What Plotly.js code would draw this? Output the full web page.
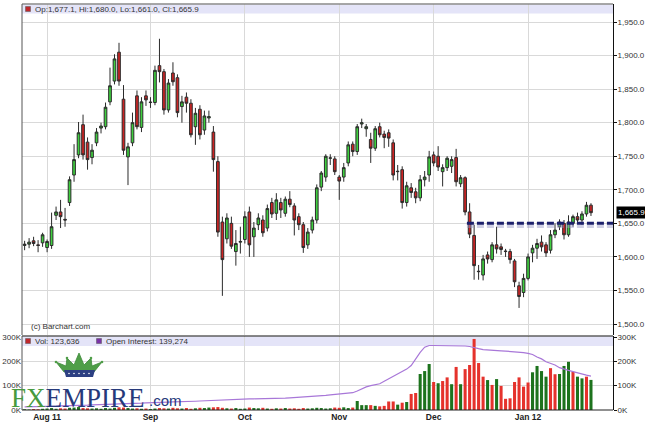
<!DOCTYPE html>
<html><head><meta charset="utf-8">
<script src="https://cdn.plot.ly/plotly-3.0.1.min.js"></script>
<style>html,body{margin:0;padding:0;background:#fff}#chart{width:645px;height:429px}</style>
</head><body><div id="chart"></div>
<script>
// ---------------- DATA ----------------
const dates = [
'2011-07-25','2011-07-26','2011-07-27','2011-07-28','2011-07-29',
'2011-08-01','2011-08-02','2011-08-03','2011-08-04','2011-08-05','2011-08-08','2011-08-09','2011-08-10','2011-08-11','2011-08-12',
'2011-08-15','2011-08-16','2011-08-17','2011-08-18','2011-08-19','2011-08-22','2011-08-23','2011-08-24','2011-08-25','2011-08-26',
'2011-08-29','2011-08-30','2011-08-31',
'2011-09-01','2011-09-02','2011-09-06','2011-09-07','2011-09-08','2011-09-09','2011-09-12','2011-09-13','2011-09-14','2011-09-15',
'2011-09-16','2011-09-19','2011-09-20','2011-09-21','2011-09-22','2011-09-23','2011-09-26','2011-09-27','2011-09-28','2011-09-29','2011-09-30',
'2011-10-03','2011-10-04','2011-10-05','2011-10-06','2011-10-07','2011-10-10','2011-10-11','2011-10-12','2011-10-13','2011-10-14',
'2011-10-17','2011-10-18','2011-10-19','2011-10-20','2011-10-21','2011-10-24','2011-10-25','2011-10-26','2011-10-27','2011-10-28','2011-10-31',
'2011-11-01','2011-11-02','2011-11-03','2011-11-04','2011-11-07','2011-11-08','2011-11-09','2011-11-10','2011-11-11','2011-11-14',
'2011-11-15','2011-11-16','2011-11-17','2011-11-18','2011-11-21','2011-11-22','2011-11-23','2011-11-25','2011-11-28','2011-11-29','2011-11-30',
'2011-12-01','2011-12-02','2011-12-05','2011-12-06','2011-12-07','2011-12-08','2011-12-09','2011-12-12','2011-12-13','2011-12-14',
'2011-12-15','2011-12-16','2011-12-19','2011-12-20','2011-12-21','2011-12-22','2011-12-23','2011-12-27','2011-12-28','2011-12-29','2011-12-30',
'2012-01-03','2012-01-04','2012-01-05','2012-01-06','2012-01-09','2012-01-10','2012-01-11','2012-01-12','2012-01-13',
'2012-01-17','2012-01-18','2012-01-19','2012-01-20','2012-01-23','2012-01-24'];

const openP = [1617,1619,1624,1618,1621, 1614,1617,1662,1667,1656,1681,1722,1752,1797,1771,
1748,1770,1792,1794,1831,1862,1905,1835,1749,1770, 1840,1793,1840,
1830,1830,1885,1876,1819,1874,1867,1824,1838,1829, 1794,1820,1789,1807,1786,1742,1652,1627,1650,1608,1622,
1626,1667,1630,1648,1655,1643,1681,1665,1681,1665, 1686,1676,1660,1648,1618,1640,1655,1704,1719,1747,1746,
1719,1719,1740,1768,1757,1798,1791,1775,1762,1794, 1783,1785,1770,1727,1730,1681,1703,1697,1688,1715,1722,
1752,1750,1727,1733,1735,1748,1709,1718,1667,1632, 1578,1573,1603,1596,1618,1615,1608,1608,1594,1557,1547,
1568,1606,1613,1622,1618,1610,1633,1645,1650, 1633,1650,1660,1655,1664,1677.1];
const highP = [1624,1628,1630,1625,1636, 1626,1666,1675,1685,1673,1720,1768,1801,1812,1778,
1768,1792,1800,1830,1882,1902,1919,1856,1770,1815, 1848,1838,1848,
1838,1885,1925,1880,1865,1890,1872,1840,1845,1835, 1822,1826,1818,1818,1795,1750,1660,1665,1660,1640,1645,
1668,1675,1652,1665,1662,1678,1688,1695,1688,1690, 1698,1680,1665,1652,1643,1660,1708,1728,1753,1753,1750,
1722,1740,1772,1772,1798,1806,1798,1785,1795,1800, 1788,1790,1775,1737,1735,1712,1710,1703,1722,1728,1758,
1757,1765,1738,1750,1750,1761,1722,1720,1680,1648, 1588,1603,1608,1622,1645,1620,1612,1612,1597,1563,1575,
1605,1618,1627,1632,1622,1640,1650,1656,1655, 1662,1663,1666,1668,1682,1680.0];
const lowP = [1610,1613,1616,1607,1615, 1607,1612,1655,1643,1645,1676,1712,1747,1745,1730,
1738,1765,1784,1790,1826,1857,1855,1752,1707,1765, 1790,1786,1825,
1822,1826,1860,1812,1815,1855,1808,1800,1815,1778, 1767,1775,1782,1800,1727,1630,1542,1620,1612,1587,1605,
1620,1600,1600,1640,1630,1638,1658,1655,1658,1660, 1674,1632,1640,1606,1612,1635,1650,1698,1712,1737,1722,
1685,1712,1735,1750,1752,1792,1779,1740,1758,1778, 1762,1764,1714,1714,1672,1675,1688,1680,1683,1705,1712,
1735,1728,1705,1728,1725,1705,1704,1662,1628,1566, 1566,1565,1590,1592,1605,1603,1600,1590,1555,1524,1540,
1565,1592,1597,1608,1600,1605,1628,1640,1626, 1630,1645,1650,1648,1660,1661.0];
const closeP = [1619,1622,1620,1617,1633, 1623,1645,1667,1660,1655,1715,1745,1785,1752,1745,
1759,1786,1795,1823,1855,1895,1862,1759,1764,1800, 1794,1831,1834,
1830.5,1878,1876,1819,1859,1861,1815,1831,1829,1782, 1814,1782,1810,1809,1745,1637,1596,1658,1616,1620,1623,
1660,1618,1643,1658,1636,1672,1664,1685,1670,1686, 1678,1655,1648,1614,1637,1655,1703,1725,1750,1747.5,1727,
1713,1733,1767,1757,1794,1800,1794,1762,1791,1782, 1778,1777,1722,1727.5,1681,1706,1696,1688,1715,1719,1749,
1740,1734,1733,1747,1745,1712,1718,1667,1634,1587, 1578.5,1597,1597,1618,1612,1611,1608.5,1596,1563,1541,1568,
1600,1613,1620,1615,1606,1633,1640,1652,1633, 1652,1660,1655,1664,1677,1665.9];

const volume = [3000,2000,4000,3000,5000, 6000,8000,5000,7000,6000,9000,10000,12000,8000,7000,
6000,7000,5000,8000,6000,9000,11000,10000,8000,6000, 7000,5000,6000,
4000,6000,8000,7000,6000,9000,7000,6000,8000,5000, 7000,9000,8000,10000,11000,12000,9000,7000,6000,8000,5000,
6000,10000,8000,7000,9000,6000,5000,7000,6000,8000, 6000,7000,5000,8000,6000,7000,9000,8000,6000,7000,10000,
9000,11000,8000,10000,37000,20000,20000,20000,17000,15000, 17000,35000,35000,22000,30000,33000,66000,70000,148000,160000,189000,
115000,110000,119000,134000,106000,177000,106000,168000,185000,292000, 193000,137000,123000,103000,127000,99000,46000,48000,115000,134000,96000,
113000,155000,181000,160000,137000,172000,147000,148000,181000, 198000,157000,137000,130000,137000,123636];

// volume bar colours for the last part (g = green, d = red); earlier bars follow the candle
const volDirLate = 'dgddgggdgddgdgdddddgdgdddddddggggddgggdggdggd'.split('');
const volDirStart = 84;

const openInterest = [13000,13000,14000,14000,15000, 15000,16000,16000,17000,17000,18000,18000,19000,19000,20000,
21000,21000,22000,23000,23000,24000,25000,25000,26000,27000, 27000,28000,29000,
29000,30000,31000,31000,32000,33000,33000,34000,35000,35000, 36000,37000,38000,39000,40000,41000,42000,43000,43000,44000,45000,
45000,46000,46000,46000,47000,47000,47000,48000,48000,49000, 50000,51000,53000,54000,55000,56000,57000,58000,60000,62000,64000,
66000,68000,70000,71000,78000,88000,95000,100000,104000,108000, 118000,128000,140000,150000,157000,168000,183000,210000,237000,258000,265000,
265000,265000,265000,264000,264000,264000,263000,263000,261000,255000, 252000,248000,246000,245000,244000,243000,242000,241000,239000,238000,236000,
233000,228000,218000,210000,198000,192000,185000,174000,170000, 163000,158000,152000,148000,143000,139274];

const priceTicks = [1500,1550,1600,1650,1700,1750,1800,1850,1900,1950];
const volTicks = [0,100000,200000,300000];
const volTickLabels = ['0K','100K','200K','300K'];
const tickDates = ['2011-08-01','2011-09-01','2011-10-03','2011-11-01','2011-12-01','2012-01-03'];
const tickLabels = ['Aug 11','Sep','Oct','Nov','Dec','Jan 12'];
const supportLevel = 1650;
const supportStart = '2011-12-13';

// ---------------- HELPERS ----------------
const fmt1 = v => v.toLocaleString('en-US',{minimumFractionDigits:1,maximumFractionDigits:1});
const fmt0 = v => Math.round(v).toLocaleString('en-US');
const W=645,H=429,L=22,R=32,T=4,B=19;
const PW=W-L-R, PH=H-T-B;
const px = x => (x-L)/PW;
const py = y => (H-B-y)/PH;

const n = dates.length;
const last = n-1;
const GREEN='#3fcf3f', RED='#cc2424', VGREEN='#1d731d', VRED='#e5322c';
const volColors = volume.map((v,i)=>{
  if(i>=volDirStart){ return volDirLate[i-volDirStart]==='g'?VGREEN:VRED; }
  return closeP[i]>=openP[i]?VGREEN:VRED;
});

const mainBottom=335, volTop=336;
const priceTop = 1950 + (22-T)*50/33.56;
const priceBot = 1950 - (mainBottom-22)*50/33.56;
const volMax = 300000*( (H-B-volTop) / (H-B-337) );

const traces = [
 {type:'candlestick', x:dates, open:openP, high:highP, low:lowP, close:closeP,
  xaxis:'x', yaxis:'y',
  increasing:{line:{color:'#2b2b2b',width:1}, fillcolor:GREEN},
  decreasing:{line:{color:'#2b2b2b',width:1}, fillcolor:RED},
  whiskerwidth:0, hoverinfo:'skip'},
 {type:'bar', x:dates, y:volume, xaxis:'x', yaxis:'y2', width:0.68,
  marker:{color:volColors, line:{width:0}}, hoverinfo:'skip'},
 {type:'scatter', mode:'lines', x:dates, y:openInterest, xaxis:'x', yaxis:'y2',
  line:{color:'#a877d8', width:1.2}, hoverinfo:'skip'}
];

const fnt = {family:'Liberation Sans, Arial, sans-serif', size:8, color:'#333'};
const sIdx = dates.indexOf(supportStart) - 0.6;
const xMax = 130.9;

// crown path (pixel coords -> paper)
function pth(pts){ return 'M'+pts.map(p=>px(p[0]).toFixed(5)+','+py(p[1]).toFixed(5)).join(' L')+' Z'; }
const crown = pth([[64,372],[56,362],[66,366],[67,358],[74,365],[79,353],[84,365],[91,358],[92,366],[102,362],[94,372]]);
const band = pth([[64,370],[95,370],[93,377],[66,377]]);

const shapes = [
 {type:'rect',xref:'paper',yref:'paper',x0:0,x1:1,y0:py(13.5),y1:py(4.5),fillcolor:'#e4e4f8',line:{width:0},layer:'below'},
 {type:'rect',xref:'paper',yref:'paper',x0:0,x1:1,y0:py(346),y1:py(336.5),fillcolor:'#e4e4f8',line:{width:0},layer:'below'},
 {type:'line',xref:'paper',yref:'paper',x0:0,x1:1,y0:py(4),y1:py(4),line:{color:'#8a8a8a',width:1.5}},
 {type:'line',xref:'paper',yref:'paper',x0:0,x1:0,y0:py(4),y1:py(mainBottom),line:{color:'#555',width:1}},
 {type:'line',xref:'paper',yref:'paper',x0:0,x1:1,y0:py(336),y1:py(336),line:{color:'#111',width:1}},
 {type:'line',xref:'paper',yref:'paper',x0:0,x1:0,y0:py(336),y1:0,line:{color:'#555',width:1}},
 {type:'line',xref:'paper',yref:'paper',x0:0,x1:1,y0:0,y1:0,line:{color:'#222',width:1}},
 {type:'rect',xref:'paper',yref:'paper',x0:px(25.5),x1:px(30.5),y0:py(11.5),y1:py(6.5),fillcolor:'#c0282d',line:{color:'#555',width:0.5}},
 {type:'rect',xref:'paper',yref:'paper',x0:px(25.5),x1:px(30.5),y0:py(343.5),y1:py(338.5),fillcolor:'#c0282d',line:{color:'#555',width:0.5}},
 {type:'rect',xref:'paper',yref:'paper',x0:px(96.5),x1:px(101.5),y0:py(343.5),y1:py(338.5),fillcolor:'#7a33a8',line:{color:'#555',width:0.5}},
 {type:'line',xref:'x',yref:'y',x0:sIdx,x1:xMax,y0:supportLevel-3*50/33.56,y1:supportLevel-3*50/33.56,
  line:{color:'rgba(150,150,195,0.45)',width:3.5,dash:'7px,3px'}},
 {type:'line',xref:'x',yref:'y',x0:sIdx,x1:xMax,y0:supportLevel,y1:supportLevel,
  line:{color:'#1b1f6b',width:3,dash:'7px,3px'}},
 {type:'path',xref:'paper',yref:'paper',path:crown,fillcolor:'#4f9e48',line:{color:'#3d8a3a',width:0.8}},
 {type:'path',xref:'paper',yref:'paper',path:band,fillcolor:'#2c3f82',line:{width:0}}
];
[69,74,79,84,89].forEach(x=>shapes.push({type:'circle',xref:'paper',yref:'paper',
  x0:px(x-0.8),x1:px(x+0.8),y0:py(374.3),y1:py(372.7),fillcolor:'#fff',line:{width:0}}));
[[56,362],[67,358],[91,358],[102,362]].forEach(p=>shapes.push({type:'circle',xref:'paper',yref:'paper',
  x0:px(p[0]-1.3),x1:px(p[0]+1.3),y0:py(p[1]+1.3),y1:py(p[1]-1.3),fillcolor:'#4f9e48',line:{width:0}}));

const annotations = [
 {xref:'paper',yref:'paper',x:px(33),y:py(9),xanchor:'left',yanchor:'middle',showarrow:false,
  text:'Op:'+fmt1(openP[last])+', Hi:'+fmt1(highP[last])+', Lo:'+fmt1(lowP[last])+', Cl:'+fmt1(closeP[last]),
  font:{family:fnt.family,size:8,color:'#333'}},
 {xref:'paper',yref:'paper',x:px(33),y:py(341),xanchor:'left',yanchor:'middle',showarrow:false,
  text:'Vol: '+fmt0(volume[last]),font:{family:fnt.family,size:8,color:'#333'}},
 {xref:'paper',yref:'paper',x:px(104),y:py(341),xanchor:'left',yanchor:'middle',showarrow:false,
  text:'Open Interest: '+fmt0(openInterest[last]),font:{family:fnt.family,size:8,color:'#333'}},
 {xref:'paper',yref:'paper',x:px(29),y:py(326),xanchor:'left',yanchor:'middle',showarrow:false,
  text:'(c) Barchart.com',font:{family:fnt.family,size:8,color:'#333'}},
 {xref:'paper',yref:'y',x:px(616),y:closeP[last],xanchor:'left',yanchor:'middle',showarrow:false,
  text:fmt1(closeP[last]),bgcolor:'#000',borderpad:1,font:{family:fnt.family,size:8,color:'#fff'}},
 {xref:'paper',yref:'paper',x:px(9),y:py(397.5),xanchor:'left',yanchor:'middle',showarrow:false,
  text:'<span style="color:#479a3e">FX</span><span style="color:#26397a">EMPIRE</span>',
  font:{family:'Liberation Serif, Times New Roman, serif',size:27}},
 {xref:'paper',yref:'paper',x:px(147),y:py(400),xanchor:'left',yanchor:'middle',showarrow:false,
  text:'.com',font:{family:'Liberation Sans, Arial, sans-serif',size:15,color:'#26397a'}}
];

const layout = {
 width:W,height:H,margin:{l:L,r:R,t:T,b:B,pad:0},
 paper_bgcolor:'#fff',plot_bgcolor:'#fff',showlegend:false,boxgap:0.15,bargap:0.3,
 font:fnt,
 xaxis:{type:'category',domain:[0,1],anchor:'y2',range:[-0.58,xMax],
  tickvals:tickDates,ticktext:tickLabels.map(t=>'<b>'+t+'</b>'),
  showgrid:true,gridcolor:'#d9d9d9',gridwidth:1,ticks:'',showline:false,zeroline:false,
  rangeslider:{visible:false},tickfont:{family:fnt.family,size:8.5,color:'#222'},fixedrange:true},
 yaxis:{domain:[py(mainBottom),1],anchor:'x',side:'right',range:[priceBot,priceTop],
  tickvals:priceTicks,ticktext:priceTicks.map(fmt1),showgrid:true,gridcolor:'#d9d9d9',
  ticks:'outside',ticklen:3,tickcolor:'#111',showline:true,linecolor:'#111',linewidth:1,zeroline:false,
  ticklabelstandoff:-1,tickfont:fnt,fixedrange:true},
 yaxis2:{domain:[0,py(volTop)],anchor:'x',side:'right',range:[0,volMax],
  tickvals:volTicks,ticktext:volTickLabels,showgrid:true,gridcolor:'#d9d9d9',
  ticks:'outside',ticklen:3,tickcolor:'#111',showline:true,linecolor:'#111',zeroline:false,
  ticklabelstandoff:-1,tickfont:fnt,fixedrange:true},
 yaxis3:{overlaying:'y2',anchor:'x',side:'left',range:[0,volMax],tickvals:volTicks,ticktext:volTickLabels,
  showgrid:false,ticks:'',showline:false,zeroline:false,tickfont:fnt,fixedrange:true},
 shapes:shapes, annotations:annotations
};
traces.push({type:'scatter',x:[dates[0]],y:[0],xaxis:'x',yaxis:'y3',mode:'markers',marker:{opacity:0},hoverinfo:'skip'});

Plotly.newPlot('chart',traces,layout,{staticPlot:true,displayModeBar:false});
</script></body></html>
